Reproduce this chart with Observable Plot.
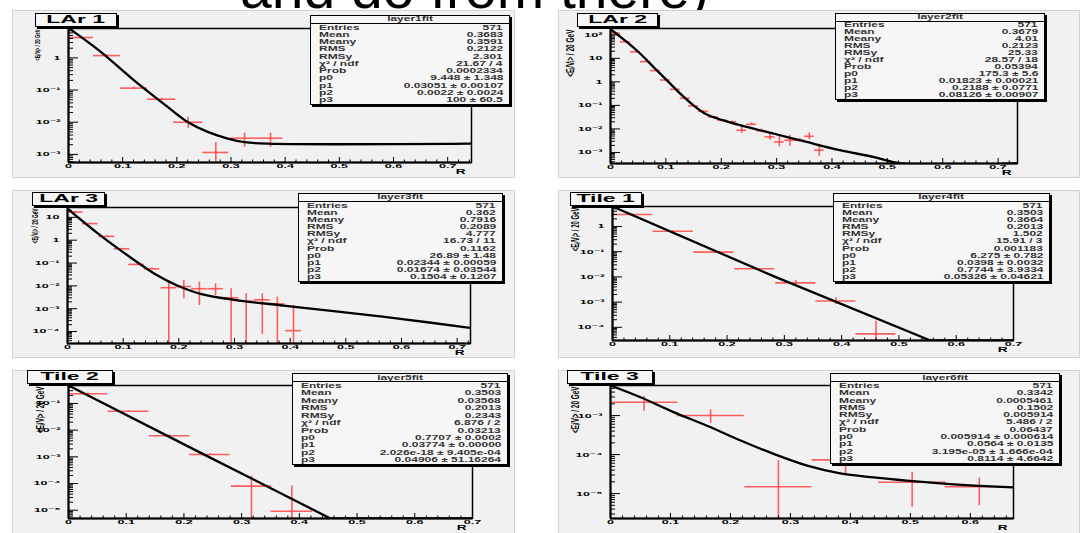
<!DOCTYPE html>
<html>
<head>
<meta charset="utf-8">
<script src="https://cdn.jsdelivr.net/npm/d3@7"></script>
<script src="https://cdn.jsdelivr.net/npm/@observablehq/plot@0.6"></script>
<style>
html,body{margin:0;padding:0;background:#fff;}
#root{position:relative;width:1080px;height:533px;overflow:hidden;background:#fff;font-family:"Liberation Sans","DejaVu Sans",Arial,sans-serif;}
.pad{position:absolute;background:#f1f1f1;border:1px solid #d2d2d2;box-sizing:border-box;}
.plot{position:absolute;}
.plot svg{overflow:visible;}
.tbox{position:absolute;box-sizing:border-box;background:#f6f6f6;border:1px solid #000;box-shadow:2px 2px 0 #000;display:flex;align-items:center;justify-content:center;font-weight:bold;font-size:11.5px;color:#000;line-height:1;}
.tbox span{display:inline-block;transform:scaleX(2);white-space:nowrap;}
.sbox{position:absolute;box-sizing:border-box;background:#f6f6f6;border:1px solid #000;box-shadow:2px 2px 0 #000;display:flex;flex-direction:column;font-weight:bold;font-size:6.3px;color:#333;line-height:1;}
.sbox .hd{flex:1;display:flex;align-items:center;justify-content:center;border-bottom:1px solid #000;}
.sbox .rw{flex:1;display:flex;align-items:center;justify-content:space-between;padding:0 6px 0 8px;}
.sbox span{display:inline-block;white-space:nowrap;}
.sbox .l{transform:scaleX(1.9);transform-origin:left center;}
.sbox .v{transform:scaleX(1.9);transform-origin:right center;}
.sbox .hd span{transform:scaleX(1.9);}
</style>
</head>
<body>
<div id="root"></div>
<script>
// ---------- shared labels ----------
const statNames = ["Entries","Mean","Meany","RMS","RMSy","χ² / ndf","Prob","p0","p1","p2","p3"];
const xTicks = [0,0.1,0.2,0.3,0.4,0.5,0.6,0.7];
const xTickLabels = ["0","0.1","0.2","0.3","0.4","0.5","0.6","0.7"];
const yTicks = [100,10,1,0.1,0.01,0.001,1e-4,1e-5];
const yTickLabels = ["10²","10","1","10⁻¹","10⁻²","10⁻³","10⁻⁴","10⁻⁵"];
const yLabelText = "<Eᵢ/Vᵢ> / 20 GeV";
const pageTitle = "and do from there)";

// ---------- LAr 1 ----------
const lar1X = [0.023,0.071,0.121,0.172,0.221,0.272,0.325,0.373];
const lar1XErr = [0.023,0.025,0.025,0.026,0.027,0.024,0.025,0.023];
const lar1Y = [4.3,1.18,0.115,0.052,0.010,0.00115,0.0032,0.0032];
const lar1YHi = [4.6,1.25,0.125,0.056,0.0145,0.00236,0.0046,0.0046];
const lar1YLo = [4.0,1.1,0.105,0.048,0.0065,0,0.00166,0.00166];
const lar1FitX = [0,0.059,0.121,0.183,0.220,0.257,0.294,0.325,0.368,0.744];
const lar1FitY = [8.5,1.57,0.2,0.030,0.0102,0.0050,0.0031,0.0024,0.00215,0.00215];
const lar1Stats = ["571","0.3683","0.3591","0.2122","2.301","21.67 / 4","0.0002334","9.448 ± 1.348","0.03051 ± 0.00107","0.0022 ± 0.0024","100 ± 60.5"];

// ---------- LAr 2 ----------
const lar2X = [0.009,0.027,0.045,0.063,0.081,0.099,0.117,0.135,0.150,0.168,0.186,0.203,0.219,0.237,0.255,0.273,0.288,0.305,0.324,0.342,0.359,0.377];
const lar2XErr = [0.009,0.009,0.009,0.009,0.009,0.009,0.009,0.009,0.009,0.009,0.009,0.009,0.009,0.009,0.009,0.009,0.009,0.009,0.009,0.009,0.009,0.009];
const lar2Y = [120,50,19,7.2,3.0,1.2,0.48,0.2,0.095,0.056,0.032,0.023,0.020,0.0088,0.0158,0.0083,0.0046,0.0028,0.0033,0.0033,0.0049,0.00126];
const lar2YHi = [128,53,20,7.6,3.2,1.28,0.51,0.215,0.102,0.060,0.035,0.025,0.022,0.0129,0.018,0.0098,0.0063,0.0049,0.0054,0.004,0.0068,0.00224];
const lar2YLo = [112,47,18,6.8,2.8,1.12,0.45,0.185,0.088,0.052,0.029,0.021,0.018,0.0064,0.0138,0.007,0.0033,0.00174,0.00186,0.0027,0.0035,0.00069];
const lar2FitX = [0,0.030,0.054,0.078,0.102,0.126,0.150,0.174,0.204,0.234,0.294,0.354,0.414,0.474,0.525,0.735];
const lar2FitY = [175,48.6,15.6,4.2,1.16,0.316,0.10,0.041,0.023,0.0144,0.0064,0.0028,0.00126,0.00065,0.00034,0.00034];
const lar2Stats = ["571","0.3679","4.01","0.2123","25.33","28.57 / 18","0.05394","175.3 ± 5.6","0.01823 ± 0.00021","0.2188 ± 0.0771","0.08126 ± 0.00907"];

// ---------- LAr 3 ----------
const lar3X = [0.014,0.041,0.071,0.098,0.124,0.152,0.182,0.209,0.237,0.266,0.294,0.321,0.350,0.377,0.406];
const lar3XErr = [0.014,0.014,0.014,0.014,0.014,0.014,0.014,0.014,0.014,0.014,0.014,0.014,0.014,0.014,0.014];
const lar3Y = [17,5.3,1.47,0.42,0.087,0.056,0.0083,0.0094,0.0075,0.0075,0.0030,0.00214,0.00245,0.00163,0.00011];
const lar3YHi = [18,5.6,1.55,0.44,0.092,0.06,0.0173,0.0173,0.0145,0.0124,0.0075,0.0045,0.0045,0.0032,0.00138];
const lar3YLo = [16,5.0,1.4,0.40,0.082,0.052,0,0.0027,0.00138,0.0038,0,0,0.000074,0,0];
const lar3FitX = [0,0.059,0.119,0.161,0.197,0.239,0.299,0.388,0.478,0.598,0.724];
const lar3FitY = [24,1.62,0.14,0.029,0.0104,0.0045,0.00245,0.00138,0.00078,0.00036,0.000145];
const lar3Stats = ["571","0.362","0.7916","0.2089","4.777","16.73 / 11","0.1162","26.89 ± 1.48","0.02344 ± 0.00059","0.01674 ± 0.03544","0.1504 ± 0.1207"];

// ---------- Tile 1 ----------
const tile1X = [0.035,0.106,0.177,0.248,0.320,0.390,0.460];
const tile1XErr = [0.035,0.035,0.035,0.035,0.035,0.035,0.035];
const tile1Y = [3.0,0.65,0.096,0.021,0.0058,0.0011,0.000055];
const tile1YHi = [3.15,0.68,0.1,0.022,0.0072,0.00148,0.000175];
const tile1YLo = [2.85,0.62,0.092,0.020,0.0047,0.0008,0];
const tile1FitX = [0,0.282,0.555,0.70];
const tile1FitY = [6.2,0.0105,0.00003,0.00003];
const tile1Stats = ["571","0.3503","0.3664","0.2013","1.502","15.91 / 3","0.001183","6.275 ± 0.782","0.0398 ± 0.0032","0.7744 ± 3.9334","0.05326 ± 0.04621"];

// ---------- Tile 2 ----------
const tile2X = [0.034,0.104,0.175,0.245,0.317,0.387];
const tile2XErr = [0.034,0.035,0.035,0.035,0.035,0.036];
const tile2Y = [0.23,0.051,0.0062,0.00123,0.00008,0.0000091];
const tile2YHi = [0.245,0.054,0.0066,0.0013,0.000186,0.00008];
const tile2YLo = [0.215,0.048,0.0058,0.00116,0,0];
const tile2FitX = [0,0.230,0.454,0.70];
const tile2FitY = [0.47,0.00138,0.0000049,0.0000049];
const tile2Stats = ["571","0.3503","0.03568","0.2013","0.2343","6.876 / 2","0.03213","0.7707 ± 0.0002","0.03774 ± 0.00000","2.026e-18 ± 9.405e-04","0.04906 ± 51.16264"];

// ---------- Tile 3 ----------
const tile3X = [0.056,0.167,0.280,0.392,0.503,0.615];
const tile3XErr = [0.056,0.056,0.056,0.056,0.056,0.057];
const tile3Y = [0.0022,0.001,0.000015,0.000073,0.0000195,0.000015];
const tile3YHi = [0.0031,0.0014,0.000071,0.00013,0.000035,0.000025];
const tile3YLo = [0.00129,0.00063,0,0.000032,0.0000045,0.0000049];
const tile3FitX = [0,0.05,0.106,0.161,0.217,0.272,0.328,0.383,0.439,0.494,0.55,0.606,0.672];
const tile3FitY = [0.0059,0.00294,0.00121,0.00055,0.00023,0.000104,0.000052,0.000033,0.000026,0.0000215,0.0000183,0.0000161,0.0000145];
const tile3Stats = ["571","0.3342","0.0005461","0.1502","0.005914","5.486 / 2","0.06437","0.005914 ± 0.000614","0.0564 ± 0.0135","3.195e-05 ± 1.666e-04","0.8114 ± 4.6642"];

// ---------- layout (pixel boxes) ----------
const panels = [
  {title:"LAr 1", fit:"layer1fit", stats:lar1Stats, x:lar1X, xerr:lar1XErr, y:lar1Y, hi:lar1YHi, lo:lar1YLo, cx:lar1FitX, cy:lar1FitY, curve:"catmull-rom",
   xmax:0.744, yDomain:[5.6e-4, 8.2], frame:[68,28,403,134], pad:[12,10,503,168], tbox:[35,13,82,14], sbox:[310,15,200,90], ylab:[-34,4.3]},
  {title:"LAr 2", fit:"layer2fit", stats:lar2Stats, x:lar2X, xerr:lar2XErr, y:lar2Y, hi:lar2YHi, lo:lar2YLo, cx:lar2FitX, cy:lar2FitY, curve:"catmull-rom",
   xmax:0.735, yDomain:[3.4e-4, 185], frame:[610,28,407,135], pad:[558,10,522,168], tbox:[577,13,81,14], sbox:[835,13,210,87], ylab:[-45,6.5]},
  {title:"LAr 3", fit:"layer3fit", stats:lar3Stats, x:lar3X, xerr:lar3XErr, y:lar3Y, hi:lar3YHi, lo:lar3YLo, cx:lar3FitX, cy:lar3FitY, curve:"catmull-rom",
   xmax:0.724, yDomain:[3e-5, 27], frame:[67,207,403,136], pad:[12,190,503,168], tbox:[32,192,73,14], sbox:[298,193,205,89], ylab:[-36,4.8]},
  {title:"Tile 1", fit:"layer4fit", stats:tile1Stats, x:tile1X, xerr:tile1XErr, y:tile1Y, hi:tile1YHi, lo:tile1YLo, cx:tile1FitX, cy:tile1FitY, curve:"linear",
   xmax:0.70, yDomain:[3e-5, 6.2], frame:[612,206,401,134], pad:[558,190,522,168], tbox:[570,192,72,14], sbox:[833,193,217,89], ylab:[-41,6]},
  {title:"Tile 2", fit:"layer5fit", stats:tile2Stats, x:tile2X, xerr:tile2XErr, y:tile2Y, hi:tile2YHi, lo:tile2YLo, cx:tile2FitX, cy:tile2FitY, curve:"linear",
   xmax:0.70, yDomain:[4.9e-6, 0.47], frame:[68,385,404,133], pad:[12,370,503,170], tbox:[27,370,86,14], sbox:[292,373,216,92], ylab:[-33,6.4]},
  {title:"Tile 3", fit:"layer6fit", stats:tile3Stats, x:tile3X, xerr:tile3XErr, y:tile3Y, hi:tile3YHi, lo:tile3YLo, cx:tile3FitX, cy:tile3FitY, curve:"catmull-rom",
   xmax:0.672, yDomain:[2.3e-6, 5.9e-3], frame:[610,385,403,133], pad:[558,370,522,170], tbox:[567,370,86,14], sbox:[830,373,230,91], ylab:[-40,6.4]}
];

const RED = "#ff3a3a";
const FONT = "Liberation Sans, DejaVu Sans, Arial, sans-serif";

// widen glyphs horizontally (the reference is a horizontally stretched screenshot)
function stretch(svg, k, kRot) {
  svg.querySelectorAll("text").forEach(t => {
    let tr = t.getAttribute("transform") || "";
    const x = t.getAttribute("x");
    if (x !== null && isFinite(+x)) {
      tr += ` translate(${+x},0)`;
      t.removeAttribute("x");
    }
    if (/rotate/.test(tr)) tr = tr.replace(/rotate/, `scale(${kRot},1) rotate`);
    else tr += ` scale(${k},1)`;
    t.setAttribute("transform", tr.trim());
  });
}

const root = document.getElementById("root");
root.insertAdjacentHTML("beforeend",
  `<svg width="1080" height="40" style="position:absolute;left:0;top:0"><text x="240" y="8" font-size="57" font-family="${FONT}" fill="#000">${pageTitle}</text></svg>`);

function box(cls, r) {
  const d = document.createElement("div");
  d.className = cls;
  Object.assign(d.style, {left: r[0] + "px", top: r[1] + "px", width: r[2] + "px", height: r[3] + "px"});
  return d;
}

for (const p of panels) {
  root.appendChild(box("pad", p.pad));
  const [fx, fy, fw, fh] = p.frame;
  const ml = 52, mr = 24, mt = 6, mb = 24;
  const ymin = p.yDomain[0];
  const pts = p.x.map((x, i) => ({x, xlo: x - p.xerr[i], xhi: x + p.xerr[i], y: p.y[i], hi: p.hi[i], lo: p.lo[i] > 0 ? p.lo[i] : ymin * 1e-3}));
  const fitPts = p.cx.map((x, i) => ({x, y: p.cy[i]}));
  const logTicks = d3.scaleLog().domain(p.yDomain).ticks();
  const majorY = logTicks.filter(v => Math.abs(Math.log10(v) - Math.round(Math.log10(v))) < 1e-9);
  const minorY = logTicks.filter(v => !majorY.includes(v));
  const xMajor = xTicks.filter(v => v <= p.xmax + 1e-9);
  const xMinor = d3.ticks(0, p.xmax, 40).filter(v => !xMajor.some(m => Math.abs(m - v) < 1e-9));
  const yLabMap = new Map(yTicks.map((v, i) => [v, yTickLabels[i]]));
  const xLabMap = new Map(xTicks.map((v, i) => [v, xTickLabels[i]]));
  const yShown = yTicks.filter(v => v >= p.yDomain[0] && v <= p.yDomain[1]);

  const svg = Plot.plot({
    width: fw + ml + mr, height: fh + mt + mb,
    marginLeft: ml, marginRight: mr, marginTop: mt, marginBottom: mb,
    x: {domain: [0, p.xmax]},
    y: {type: "log", domain: p.yDomain},
    style: {background: "transparent", overflow: "visible", fontFamily: FONT},
    marks: [
      Plot.ruleY(pts, {y: "y", x1: "xlo", x2: "xhi", stroke: RED, strokeWidth: 1.6, strokeOpacity: 0.8, clip: true}),
      Plot.ruleX(pts, {x: "x", y1: "lo", y2: "hi", stroke: RED, strokeWidth: 1.6, strokeOpacity: 0.8, clip: true}),
      Plot.line(fitPts, {x: "x", y: "y", stroke: "#000", strokeWidth: 2.3, curve: p.curve, clip: true}),
      Plot.tickY(minorY, {y: d => d, insetRight: fw - 5, stroke: "#000", strokeWidth: 1}),
      Plot.tickY(majorY, {y: d => d, insetRight: fw - 10, stroke: "#000", strokeWidth: 1}),
      Plot.tickX(xMinor, {x: d => d, insetTop: fh - 2.5, stroke: "#000", strokeWidth: 1}),
      Plot.tickX(xMajor, {x: d => d, insetTop: fh - 5, stroke: "#000", strokeWidth: 1}),
      Plot.frame({stroke: "#000", strokeWidth: 1.5}),
      Plot.ruleX([0], {stroke: "#000", strokeWidth: 2}),
      Plot.ruleY([ymin], {stroke: "#000", strokeWidth: 2}),
      Plot.axisX(xMajor, {tickSize: 0, tickPadding: 1.5, tickFormat: d => xLabMap.get(d), fontSize: 6, fontWeight: "bold", label: null}),
      Plot.axisY(yShown, {tickSize: 0, tickPadding: 8, tickFormat: d => yLabMap.get(d), fontSize: 6, fontWeight: "bold", label: null}),
      Plot.text(["R"], {text: d => d, frameAnchor: "bottom-right", dx: -6, dy: 11, fontSize: 6.5, fontWeight: "bold"}),
      Plot.text([yLabelText], {text: d => d, frameAnchor: "top-left", rotate: -90, textAnchor: "end", dx: p.ylab[0], dy: 1, fontSize: p.ylab[1], fontWeight: "bold"})
    ]
  });
  stretch(svg, 2.1, 1.8);
  const wrap = document.createElement("div");
  wrap.className = "plot";
  wrap.style.left = (fx - ml) + "px";
  wrap.style.top = (fy - mt) + "px";
  wrap.appendChild(svg);
  root.appendChild(wrap);

  const tb = box("tbox", p.tbox);
  const ts = document.createElement("span");
  ts.textContent = p.title;
  tb.appendChild(ts);
  root.appendChild(tb);

  const sb = box("sbox", p.sbox);
  const hd = document.createElement("div");
  hd.className = "hd";
  const hs = document.createElement("span");
  hs.textContent = p.fit;
  hd.appendChild(hs);
  sb.appendChild(hd);
  statNames.forEach((n, i) => {
    const rw = document.createElement("div");
    rw.className = "rw";
    const l = document.createElement("span"); l.className = "l"; l.textContent = n;
    const v = document.createElement("span"); v.className = "v"; v.textContent = p.stats[i];
    rw.appendChild(l); rw.appendChild(v);
    sb.appendChild(rw);
  });
  root.appendChild(sb);
}
</script>
</body>
</html>
